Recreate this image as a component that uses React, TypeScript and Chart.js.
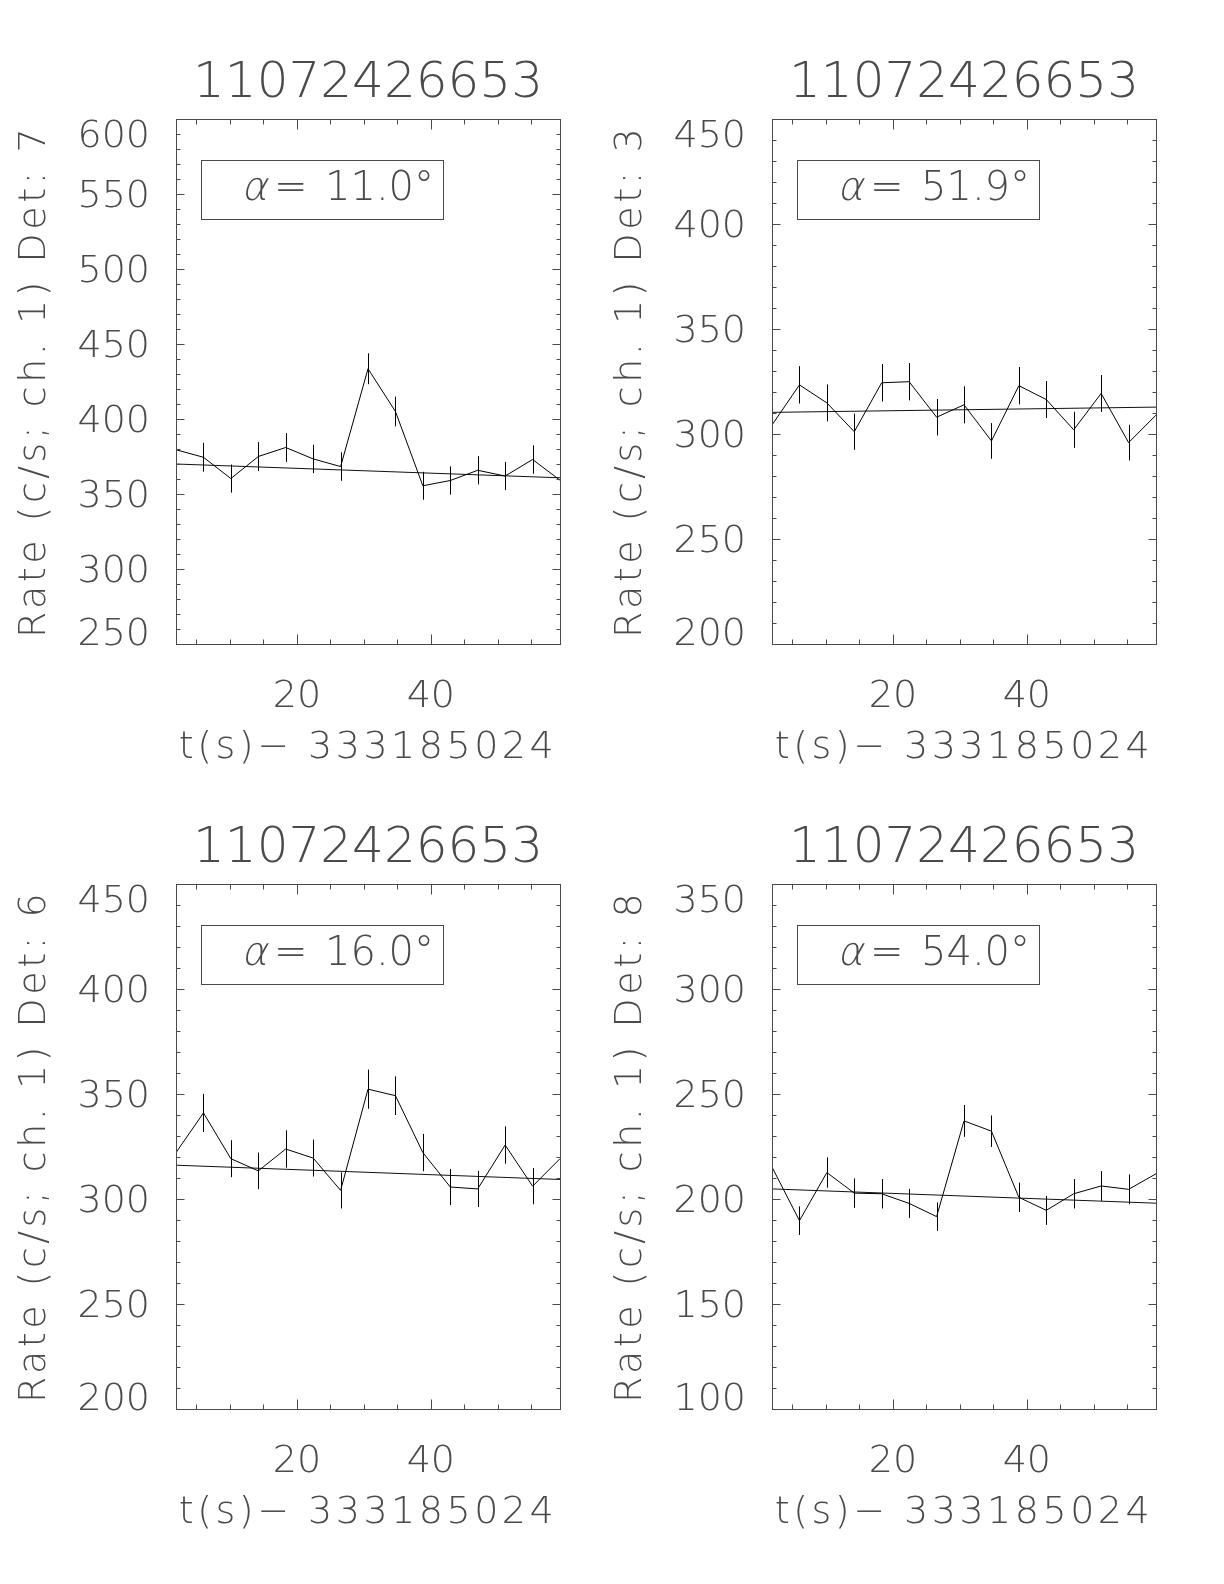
import React, { useEffect, useRef } from 'react';
import { Chart, registerables } from 'chart.js';

Chart.register(...registerables);

// ---------------- data ----------------
const obsId = '11072426653';
const timeAxisLabel = 't(s)\u2212 333185024';
const times = [1.95, 6.05, 10.14, 14.24, 18.33, 22.43, 26.53, 30.62, 34.72, 38.81, 42.91, 47.0, 51.1, 55.2, 59.29];
const xTickLabels = [20, 40];
const detectors = [7, 3, 6, 8];
const alphas = [11.0, 51.9, 16.0, 54.0];
const yMins = [250, 200, 200, 100];
const yMaxs = [600, 450, 450, 350];

const rateDet7 = [379.5, 374.5, 360.3, 375.0, 381.0, 373.4, 368.3, 433.5, 405.0, 355.5, 359.0, 365.8, 362.0, 373.0, 359.2];
const errDet7 = [9.6, 9.6, 9.4, 9.6, 9.6, 9.5, 9.5, 10.3, 9.9, 9.3, 9.4, 9.4, 9.4, 9.5, 9.4];
const rateDet3 = [304.3, 323.4, 314.8, 301.1, 324.4, 324.9, 308.0, 313.9, 296.7, 323.0, 316.4, 302.0, 319.3, 295.9, 309.0];
const errDet3 = [8.6, 8.9, 8.8, 8.6, 8.9, 8.9, 8.7, 8.8, 8.5, 8.9, 8.8, 8.6, 8.8, 8.5, 8.7];
const rateDet6 = [322.1, 341.0, 319.2, 313.4, 323.8, 319.5, 304.1, 352.3, 349.2, 322.1, 305.7, 304.8, 325.7, 306.1, 319.2];
const errDet6 = [8.9, 9.1, 8.8, 8.7, 8.9, 8.8, 8.6, 9.3, 9.2, 8.9, 8.6, 8.6, 8.9, 8.6, 8.8];
const rateDet8 = [215.2, 189.7, 212.6, 202.8, 202.5, 197.9, 191.6, 237.2, 232.3, 200.8, 194.6, 202.5, 206.2, 204.6, 212.0];
const errDet8 = [7.2, 6.8, 7.2, 7.0, 7.0, 6.9, 6.8, 7.6, 7.5, 7.0, 6.9, 7.0, 7.1, 7.1, 7.2];

const fitStart = [370.0, 310.3, 316.1, 204.8];
const fitEnd = [360.8, 312.8, 309.3, 198.0];

const rates = [rateDet7, rateDet3, rateDet6, rateDet8];
const errors = [errDet7, errDet3, errDet6, errDet8];

// ---------------- layout / style ----------------
const CANVAS_W = 736;
const CANVAS_H = 792;
const canvasLefts = [0, 596, 0, 596];
const canvasTops = [0, 0, 765, 765];
const FONT = '"DejaVu Sans", "Liberation Sans", sans-serif';
const WEIGHT = '200';
const TEXT_COLOR = '#4a4a4a';
const FRAME_COLOR = '#4a4a4a';

// blank lines shift a y tick label (line height 6px => 3px per line)
function shiftLabel(s: string, before: number, after: number) {
  const out: string[] = [];
  for (let i = 0; i < before; i++) out.push('');
  out.push(s);
  for (let i = 0; i < after; i++) out.push('');
  return out;
}

function makeDecorPlugin(index: number) {
  return {
    id: 'idlDecor' + index,
    afterLayout(chart: any) {
      Object.values(chart.scales).forEach((scale: any) => {
        if (scale.__lsPatched) return;
        const orig = scale.drawTitle;
        scale.drawTitle = function (...args: any[]) {
          const c = this.ctx;
          const prev = c.letterSpacing;
          c.letterSpacing = '3.5px';
          orig.apply(this, args);
          c.letterSpacing = prev || '0px';
        };
        scale.__lsPatched = true;
      });
    },
    afterDatasetsDraw(chart: any) {
      const { ctx, chartArea: a } = chart;
      const x = chart.scales.x;
      const y = chart.scales.y;
      ctx.save();
      // error bars
      ctx.strokeStyle = '#000';
      ctx.lineWidth = 1;
      const vals = rates[index];
      const errs = errors[index];
      times.forEach((t, i) => {
        const px = Math.round(x.getPixelForValue(t)) + 0.5;
        const y1 = y.getPixelForValue(vals[i] - errs[i]);
        const y2 = y.getPixelForValue(vals[i] + errs[i]);
        ctx.beginPath();
        ctx.moveTo(px, y1);
        ctx.lineTo(px, y2);
        ctx.stroke();
      });
      // frame
      ctx.strokeStyle = FRAME_COLOR;
      const L = Math.round(a.left) + 0.5;
      const R = Math.round(a.right) + 0.5;
      const T = Math.round(a.top) + 0.5;
      const B = Math.round(a.bottom) + 0.5;
      ctx.strokeRect(L, T, R - L, B - T);
      // y ticks (inward, both sides)
      ctx.beginPath();
      for (let v = y.min; v <= y.max + 1e-6; v += 10) {
        const py = Math.round(y.getPixelForValue(v)) + 0.5;
        const len = Math.abs(v % 50) < 1e-6 ? 8 : 4;
        ctx.moveTo(L, py);
        ctx.lineTo(L + len, py);
        ctx.moveTo(R, py);
        ctx.lineTo(R - len, py);
      }
      // x ticks (inward, top and bottom)
      for (let v = 5; v < x.max; v += 5) {
        if (v <= x.min) continue;
        const px = Math.round(x.getPixelForValue(v)) + 0.5;
        const len = xTickLabels.includes(v) ? 10 : 5;
        ctx.moveTo(px, B);
        ctx.lineTo(px, B - len);
        ctx.moveTo(px, T);
        ctx.lineTo(px, T + len);
      }
      ctx.stroke();
      // alpha box
      const bx = Math.round(a.left) + 25;
      const by = Math.round(a.top) + 41;
      ctx.strokeRect(bx + 0.5, by + 0.5, 242, 59);
      ctx.fillStyle = TEXT_COLOR;
      ctx.textAlign = 'left';
      ctx.textBaseline = 'alphabetic';
      ctx.font = `${WEIGHT} 40px ${FONT}`;
      ctx.save();
      ctx.translate(bx + 40, by + 40);
      ctx.transform(1, 0, -0.22, 1, 0, 0);
      ctx.fillText('\u03b1', 0, 0);
      ctx.restore();
      ctx.fillText('=', bx + 73, by + 40);
      ctx.fillText(`${alphas[index].toFixed(1)}\u00b0`, bx + 124, by + 40);
      ctx.restore();
    },
  };
}

function Panel({ index }: { index: number }) {
  const ref = useRef<HTMLCanvasElement | null>(null);
  useEffect(() => {
    if (!ref.current) return;
    const vals = rates[index];
    const last = times.length - 1;
    const tickFont = { family: FONT, size: 38, weight: WEIGHT as any, lineHeight: 1.2 };
    const yTickFont = { family: FONT, size: 38, weight: WEIGHT as any, lineHeight: '6px' };
    const yMin = yMins[index];
    const yMax = yMaxs[index];
    const chart = new Chart(ref.current, {
      type: 'line',
      data: {
        datasets: [
          {
            data: times.map((t, i) => ({ x: t, y: vals[i] })),
            borderColor: '#000',
            borderWidth: 1,
            pointRadius: 0,
            tension: 0,
            fill: false,
          },
          {
            data: [
              { x: times[0], y: fitStart[index] },
              { x: times[last], y: fitEnd[index] },
            ],
            borderColor: '#111',
            borderWidth: 1,
            pointRadius: 0,
            tension: 0,
            fill: false,
          },
        ],
      },
      options: {
        responsive: false,
        animation: false,
        devicePixelRatio: 1,
        events: [],
        layout: { padding: 0 },
        plugins: {
          legend: { display: false },
          tooltip: { enabled: false },
          title: {
            display: true,
            text: obsId,
            color: TEXT_COLOR,
            font: { family: FONT, size: 50, weight: WEIGHT as any, lineHeight: 1.2 },
            padding: { top: 54, bottom: 5 },
          },
        },
        scales: {
          x: {
            type: 'linear',
            position: 'bottom',
            min: times[0],
            max: times[last],
            grid: { display: false },
            border: { display: false },
            afterBuildTicks: (ax: any) => {
              ax.ticks = xTickLabels.map((v) => ({ value: v }));
            },
            afterFit: (ax: any) => {
              ax.height = 148;
            },
            ticks: { font: tickFont, color: TEXT_COLOR, padding: 22, maxRotation: 0, autoSkip: false },
            title: {
              display: true,
              text: timeAxisLabel,
              color: TEXT_COLOR,
              font: tickFont,
              padding: { top: 0, bottom: 21 },
            },
          },
          y: {
            type: 'linear',
            position: 'left',
            min: yMin,
            max: yMax,
            grid: { display: false },
            border: { display: false },
            afterFit: (ax: any) => {
              ax.width = 176;
            },
            ticks: {
              stepSize: 50,
              font: yTickFont,
              color: TEXT_COLOR,
              padding: 18,
              autoSkip: false,
              callback: (v: any) => {
                const s = String(v);
                if (v === yMax) return shiftLabel(s, 6, 0);
                if (v === yMin) return shiftLabel(s, 0, 3);
                return shiftLabel(s, 1, 0);
              },
            },
            title: {
              display: true,
              text: `Rate (c/s; ch. 1) Det: ${detectors[index]}`,
              color: TEXT_COLOR,
              font: tickFont,
              padding: { top: 12, bottom: 0 },
            },
          },
          yRight: {
            type: 'linear',
            position: 'right',
            display: true,
            grid: { display: false },
            border: { display: false },
            ticks: { display: false },
            afterFit: (ax: any) => {
              ax.width = 176;
            },
          },
        },
      } as any,
      plugins: [makeDecorPlugin(index)],
    });
    return () => chart.destroy();
  }, [index]);
  return (
    <canvas
      ref={ref}
      width={CANVAS_W}
      height={CANVAS_H}
      style={{
        position: 'absolute',
        left: canvasLefts[index],
        top: canvasTops[index],
        width: CANVAS_W,
        height: CANVAS_H,
      }}
    />
  );
}

export default function App() {
  return (
    <div
      style={{
        position: 'absolute',
        left: 0,
        top: 0,
        width: 1224,
        height: 1584,
        overflow: 'hidden',
        background: '#fff',
      }}
    >
      {[0, 1, 2, 3].map((i) => (
        <Panel key={i} index={i} />
      ))}
    </div>
  );
}
